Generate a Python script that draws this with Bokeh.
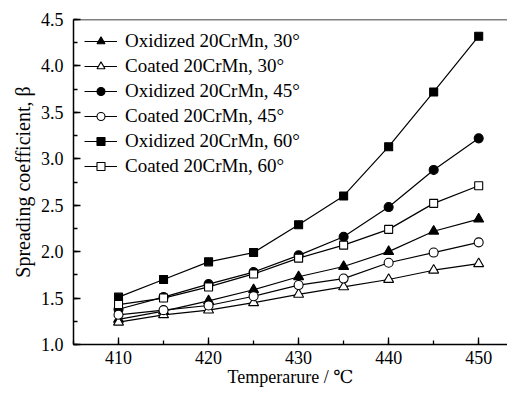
from bokeh.plotting import figure
from bokeh.models import SingleIntervalTicker, Span, Range1d, Legend, LegendItem, CustomJSTickFormatter
from bokeh.embed import file_html
from bokeh.resources import INLINE

temperature = [410, 415, 420, 425, 430, 435, 440, 445, 450]
oxidized_30 = [1.27, 1.36, 1.47, 1.59, 1.73, 1.84, 2.00, 2.22, 2.35]
coated_30 = [1.24, 1.32, 1.37, 1.45, 1.54, 1.62, 1.70, 1.80, 1.87]
oxidized_45 = [1.38, 1.51, 1.65, 1.78, 1.96, 2.16, 2.48, 2.88, 3.22]
coated_45 = [1.32, 1.37, 1.42, 1.52, 1.64, 1.71, 1.88, 1.99, 2.10]
oxidized_60 = [1.51, 1.70, 1.89, 1.99, 2.29, 2.60, 3.13, 3.72, 4.32]
coated_60 = [1.43, 1.50, 1.62, 1.76, 1.93, 2.07, 2.24, 2.52, 2.71]

labels = ["Oxidized 20CrMn, 30\u00b0", "Coated 20CrMn, 30\u00b0",
          "Oxidized 20CrMn, 45\u00b0", "Coated 20CrMn, 45\u00b0",
          "Oxidized 20CrMn, 60\u00b0", "Coated 20CrMn, 60\u00b0"]

FONT = "'Liberation Serif', 'DejaVu Serif', serif"

p = figure(width=507, height=389, output_backend="svg", toolbar_location=None,
           x_range=Range1d(405, 453.2), y_range=Range1d(1.0, 4.5),
           min_border_left=73, min_border_right=0, min_border_top=19,
           min_border_bottom=44)
p.outline_line_color = None
p.grid.visible = False
p.background_fill_color = "white"

series = [
    (oxidized_30, "triangle", "black", 10),
    (coated_30, "triangle", "white", 10),
    (oxidized_45, "circle", "black", 9),
    (coated_45, "circle", "white", 9),
    (oxidized_60, "square", "black", 8),
    (coated_60, "square", "white", 8),
]

items = []
for (vals, marker, fill, size), lab in zip(series, labels):
    l = p.line(temperature, vals, line_color="black", line_width=1.2)
    s = p.scatter(temperature, vals, marker=marker, size=size,
                  fill_color=fill, line_color="black", line_width=1.1)
    items.append(LegendItem(label=lab, renderers=[l, s]))

legend = Legend(items=items, location="top_left")
legend.label_text_font = FONT
legend.label_text_font_size = "19px"
legend.label_text_color = "black"
legend.glyph_width = 33
legend.glyph_height = 20
legend.label_height = 20
legend.spacing = 3
legend.padding = 0
legend.margin = 11
legend.border_line_color = None
legend.background_fill_alpha = 0
legend.label_standoff = 8
p.add_layout(legend, "center")

top_line = Span(location=4.5, dimension="width", line_color="black", line_width=1.5)
p.add_layout(top_line)

p.xaxis.ticker = SingleIntervalTicker(interval=10, num_minor_ticks=2)
p.yaxis.ticker = SingleIntervalTicker(interval=0.5, num_minor_ticks=2)
p.yaxis.formatter = CustomJSTickFormatter(code="return tick.toFixed(1);")

for ax in (p.xaxis[0], p.yaxis[0]):
    ax.axis_line_width = 1.5
    ax.axis_line_color = "black"
    ax.major_tick_in = 7
    ax.major_tick_out = 0
    ax.minor_tick_in = 4
    ax.minor_tick_out = 0
    ax.major_tick_line_color = "black"
    ax.minor_tick_line_color = "black"
    ax.major_tick_line_width = 1.3
    ax.minor_tick_line_width = 1.3
    ax.major_label_text_font = FONT
    ax.major_label_text_font_size = "18px"
    ax.major_label_text_color = "black"
    ax.axis_label_text_font = FONT
    ax.axis_label_text_font_style = "normal"
    ax.axis_label_text_color = "black"

p.xaxis.axis_label = "Temperarure / \u2103"
p.yaxis.axis_label = "Spreading coefficient, \u03b2"
p.xaxis.axis_label_text_font_size = "18px"
p.yaxis.axis_label_text_font_size = "20px"
p.xaxis.major_label_standoff = 6
p.xaxis.axis_label_standoff = 0
p.yaxis.major_label_standoff = 10
p.yaxis.axis_label_standoff = 4

open("out.html", "w").write(file_html(p, INLINE))
